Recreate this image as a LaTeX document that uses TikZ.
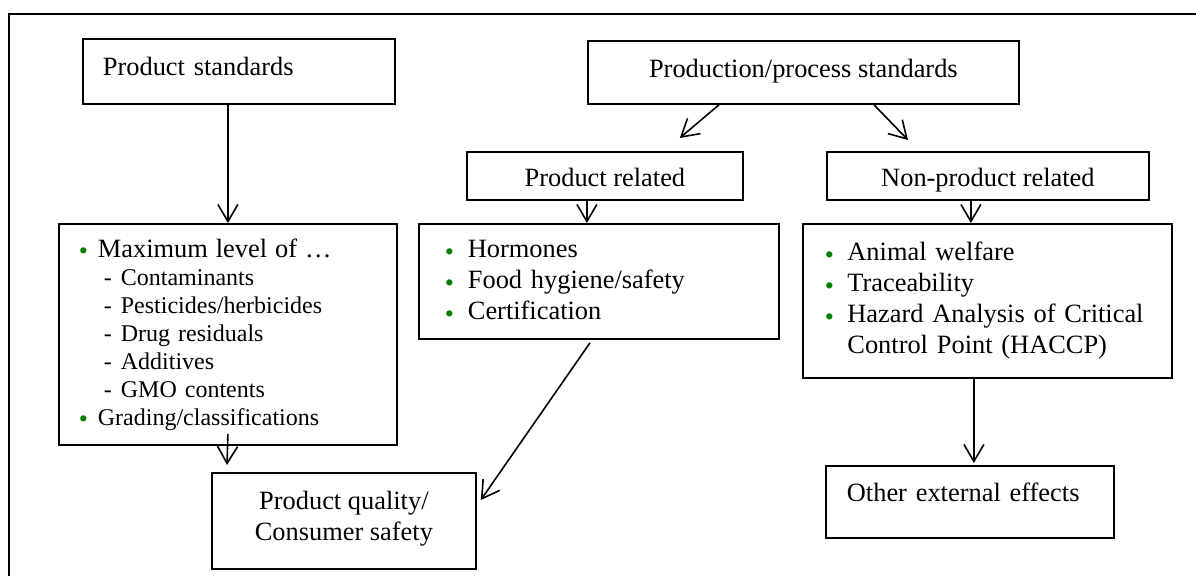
\documentclass[tikz,border=0pt]{standalone}
\usepackage{fontspec}
\setmainfont{Liberation Serif}
\usepackage{xcolor}
\usepackage{tikz}
\usetikzlibrary{arrows.meta, positioning, calc}
\definecolor{bulgreen}{RGB}{0,128,0}
\newcommand{\fontbig}{\fontsize{13.2}{15.5}\selectfont}
\newcommand{\fontsub}{\fontsize{12}{14}\selectfont}
\newcommand{\bul}{\textcolor{bulgreen}{\fontsize{13}{13}\selectfont\raisebox{-1.2pt}{\textbullet}}}
\newcommand{\pad}[2]{\rule[-#2]{0pt}{\dimexpr #1+#2\relax}}
\tikzstyle{box} = [rectangle, draw=black, line width=0.9pt, anchor=north west, inner sep=0pt, font=\fontbig]
\tikzstyle{arrow} = [line width=0.8pt, -{Straight Barb[length=8.5pt,width=10pt]}]

\begin{document}
\begin{tikzpicture}[x=0.5pt, y=-0.5pt]
\useasboundingbox (0,0) rectangle (1196,576);
% Frame
\draw[line width=1pt] (9,576) -- (9,14) -- (1196,14);

% Top boxes
\node[box, minimum width=156pt, minimum height=32.5pt, inner xsep=10pt, text width=136pt, align=left] (ps) at (82,38) {Product standards\pad{9pt}{5pt}};
\node[box, minimum width=215.5pt, minimum height=31.5pt, align=center] (pps) at (587,40) {Production/process standards\pad{9pt}{4.5pt}};
\node[box, minimum width=138pt, minimum height=24pt, align=center] (prodrel) at (466,151) {Product related\pad{11pt}{0pt}};
\node[box, minimum width=161pt, minimum height=24pt, align=center] (nonprod) at (826,151) {Non-product related\pad{13.9pt}{2.9pt}};

% Lists
\node[box, minimum width=169pt, minimum height=110.5pt, inner xsep=10pt, text width=149pt, align=left, font=\fontsub] (maxbox) at (58,223) {%
{\fontbig\makebox[9.5pt][l]{\bul}Maximum level of …}\\
\hspace*{12.5pt}\makebox[8.5pt][l]{-}Contaminants\\
\hspace*{12.5pt}\makebox[8.5pt][l]{-}Pesticides/herbicides\\
\hspace*{12.5pt}\makebox[8.5pt][l]{-}Drug residuals\\
\hspace*{12.5pt}\makebox[8.5pt][l]{-}Additives\\
\hspace*{12.5pt}\makebox[8.5pt][l]{-}GMO contents\\
\makebox[9.5pt][l]{\bul}Grading/classifications};
\node[box, minimum width=180pt, minimum height=57.5pt, inner xsep=13pt, text width=154pt, align=left] (prodbul) at (418,223) {%
\makebox[11.5pt][l]{\bul}Hormones\\
\makebox[11.5pt][l]{\bul}Food hygiene/safety\\
\makebox[11.5pt][l]{\bul}Certification};
\node[box, minimum width=184.5pt, minimum height=77pt, inner xsep=11pt, text width=162.5pt, align=left] (nonbul) at (802,223) {%
\makebox[11.25pt][l]{\bul}Animal welfare\\
\makebox[11.25pt][l]{\bul}Traceability\\
\makebox[11.25pt][l]{\bul}\makebox[151pt][s]{Hazard Analysis of Critical}\\
\hspace*{11.25pt}Control Point (HACCP)};

% Outcomes
\node[box, minimum width=132pt, minimum height=48pt, align=center] (pq) at (211,472) {Product quality/\\Consumer safety\pad{0pt}{5.5pt}};
\node[box, minimum width=144pt, minimum height=36pt, inner xsep=10.5pt, text width=123pt, align=left] (oee) at (825,465) {Other external effects\pad{9pt}{9.5pt}};

% Arrows
\draw[arrow] (maxbox.north |- ps.south) -- (maxbox.north);
\draw[arrow] ($(pps.south west)+(132,0)$) -- ($(prodrel.north east)+(-64,-13)$);
\draw[arrow] ($(pps.south west)+(287,0)$) -- ($(nonprod.north west)+(82,-11)$);
\draw[arrow] ($(prodrel.south)+(-18,0)$) -- ($(prodbul.north)+(-12,0)$);
\draw[arrow] ($(nonprod.south)+(-17,0)$) -- ($(nonbul.north)+(-16.5,0)$);
\draw[arrow] ($(maxbox.south)+(0,-12)$) -- ($(pq.north west)+(16,-7)$);
\draw[arrow] ($(prodbul.south west)+(172,3)$) -- ($(pq.north east)+(4,28)$);
\draw[arrow] ($(nonbul.south)+(-13.5,0)$) -- ($(oee.north)+(4,-2)$);
\end{tikzpicture}
\end{document}
